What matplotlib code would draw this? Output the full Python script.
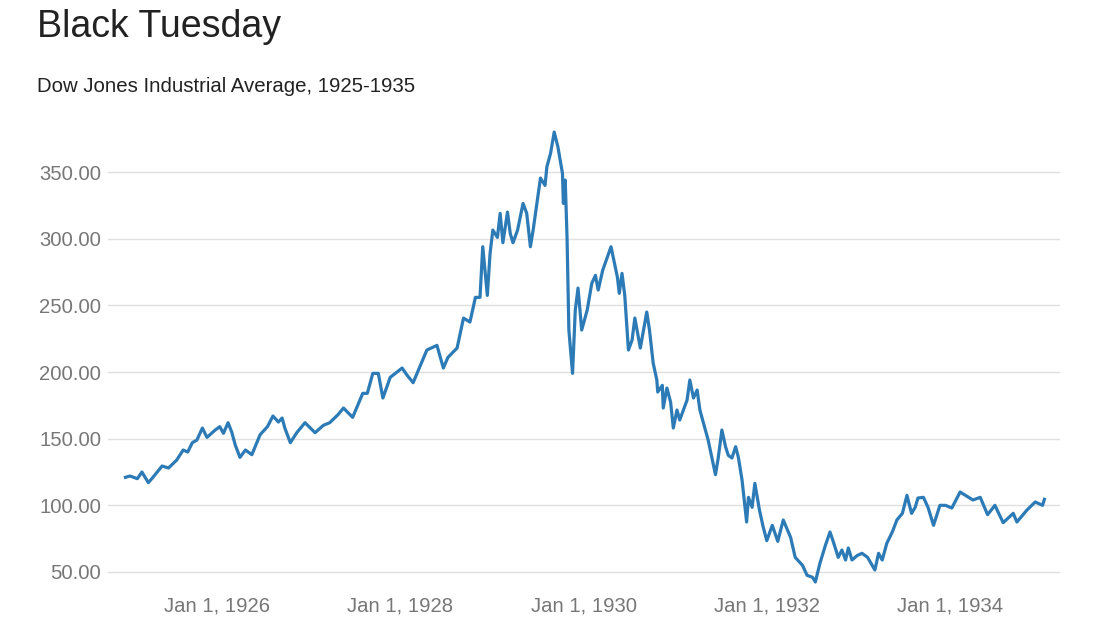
import numpy as np
import matplotlib.pyplot as plt
from matplotlib.ticker import FormatStrFormatter

# Dow Jones Industrial Average (decimal years)
years = [1925.00, 1925.05, 1925.13, 1925.18, 1925.25, 1925.30, 1925.40, 1925.47,
         1925.56, 1925.63, 1925.68, 1925.73, 1925.78, 1925.84, 1925.89, 1925.98,
         1926.03, 1926.07, 1926.12, 1926.16, 1926.20, 1926.25, 1926.31, 1926.38,
         1926.47, 1926.55, 1926.61, 1926.67, 1926.71, 1926.74, 1926.80, 1926.87,
         1926.96, 1927.07, 1927.16, 1927.23, 1927.32, 1927.38, 1927.48, 1927.59,
         1927.64, 1927.70, 1927.76, 1927.81, 1927.89, 1928.02, 1928.07, 1928.14,
         1928.29, 1928.40, 1928.47, 1928.52, 1928.62, 1928.69, 1928.76, 1928.82,
         1928.87, 1928.90, 1928.95, 1928.98, 1929.01, 1929.06, 1929.09, 1929.12,
         1929.17, 1929.20, 1929.23, 1929.28, 1929.34, 1929.38, 1929.42, 1929.45,
         1929.53, 1929.58, 1929.60, 1929.64, 1929.68, 1929.72, 1929.77, 1929.78,
         1929.80, 1929.82, 1929.84, 1929.88, 1929.91, 1929.94, 1929.98, 1930.04,
         1930.09, 1930.13, 1930.16, 1930.21, 1930.30, 1930.37, 1930.39, 1930.42,
         1930.45, 1930.49, 1930.53, 1930.56, 1930.62, 1930.69, 1930.72, 1930.76,
         1930.80, 1930.81, 1930.86, 1930.87, 1930.91, 1930.95, 1930.98, 1931.02,
         1931.05, 1931.09, 1931.13, 1931.16, 1931.20, 1931.24, 1931.27, 1931.33,
         1931.36, 1931.40, 1931.44, 1931.47, 1931.51, 1931.55, 1931.58, 1931.62,
         1931.66, 1931.69, 1931.73, 1931.78, 1931.80, 1931.84, 1931.87, 1931.92,
         1931.96, 1932.00, 1932.06, 1932.12, 1932.18, 1932.26, 1932.31, 1932.39,
         1932.44, 1932.50, 1932.53, 1932.58, 1932.64, 1932.69, 1932.72, 1932.78,
         1932.82, 1932.86, 1932.89, 1932.93, 1932.99, 1933.04, 1933.10, 1933.15,
         1933.18, 1933.22, 1933.26, 1933.31, 1933.37, 1933.42, 1933.48, 1933.53,
         1933.58, 1933.62, 1933.65, 1933.71, 1933.76, 1933.82, 1933.89, 1933.95,
         1934.02, 1934.11, 1934.25, 1934.33, 1934.41, 1934.49, 1934.58, 1934.69,
         1934.73, 1934.84, 1934.93, 1935.01, 1935.03]

dow = [121, 122, 120, 125, 117, 121, 129.5, 128,
       134, 141.5, 140, 147, 149, 158, 151, 156.5,
       159, 154, 162, 155, 145, 136, 141.5, 138,
       153, 159, 167, 162.5, 165.5, 158, 147, 154.5,
       162, 154.5, 160, 162, 168, 173, 166, 184,
       184, 199, 199, 180.5, 196, 203, 198, 192,
       216.5, 220, 203, 211, 218, 240.5, 237.5, 256,
       256, 294, 257.5, 289, 306.5, 301, 319, 297,
       320, 304, 297, 306.5, 326.5, 319, 294, 306.5,
       345.5, 340, 354, 364, 380, 369, 349, 326.5,
       344, 301, 231.5, 199, 246.5, 263, 231.5, 246.5,
       266.5, 272.5, 261.5, 276.5, 294, 271, 259, 274,
       257.5, 216.5, 224, 240.5, 218, 245, 231.5, 206.75,
       194, 185, 190, 173, 188, 177.5, 158, 171.5,
       164, 171.5, 179, 194, 180.5, 186.5, 171.5, 156.5,
       149, 136, 123, 135.5, 156.5, 144, 137.5, 135.5,
       144, 136, 119, 87.5, 106, 98.5, 116.5, 96.5,
       84, 73.5, 85, 73, 89, 76, 61, 55,
       47.5, 46, 42.5, 56.5, 70, 80, 74, 61,
       66.5, 59, 68, 59, 62.5, 64, 61, 55,
       51.5, 64, 59, 71.5, 80, 89, 94, 107.5,
       94, 98.5, 105.5, 106, 98.5, 85, 100, 100,
       98, 110, 104, 106, 93, 100, 87, 94,
       87.5, 96.5, 102.5, 100, 104.5]

tick_years = [1926, 1928, 1930, 1932, 1934]
tick_labels = ["Jan 1, 1926", "Jan 1, 1928", "Jan 1, 1930", "Jan 1, 1932", "Jan 1, 1934"]
y_ticks = [50, 100, 150, 200, 250, 300, 350]

plt.rcParams['font.family'] = ['Liberation Sans', 'DejaVu Sans']

fig = plt.figure(figsize=(11, 6.37), dpi=100)
ax = fig.add_axes([0.0982, 0.0738, 0.8654, 0.722])

ax.plot(years, dow, color='#2c7bb6', linewidth=2.3, solid_joinstyle='round')

ax.set_xlim(1924.81, 1935.20)
ax.set_ylim(36.5, 381.5)
ax.set_xticks(tick_years)
ax.set_xticklabels(tick_labels)
ax.set_yticks(y_ticks)
ax.yaxis.set_major_formatter(FormatStrFormatter('%.2f'))
ax.tick_params(axis='both', length=0, labelsize=14.6, colors='#777777')
ax.tick_params(axis='y', pad=5)
ax.tick_params(axis='x', pad=5)
ax.grid(axis='y', color='#e0e0e0', linewidth=1)
ax.set_axisbelow(True)
for s in ax.spines.values():
    s.set_visible(False)

fig.text(37 / 1100, 1 - 37 / 637, "Black Tuesday", fontsize=27, color='#222222', va='baseline')
fig.text(37 / 1100, 1 - 92 / 637, "Dow Jones Industrial Average, 1925-1935", fontsize=14.7,
         color='#222222', va='baseline')

fig.savefig("out.png", dpi=100)
